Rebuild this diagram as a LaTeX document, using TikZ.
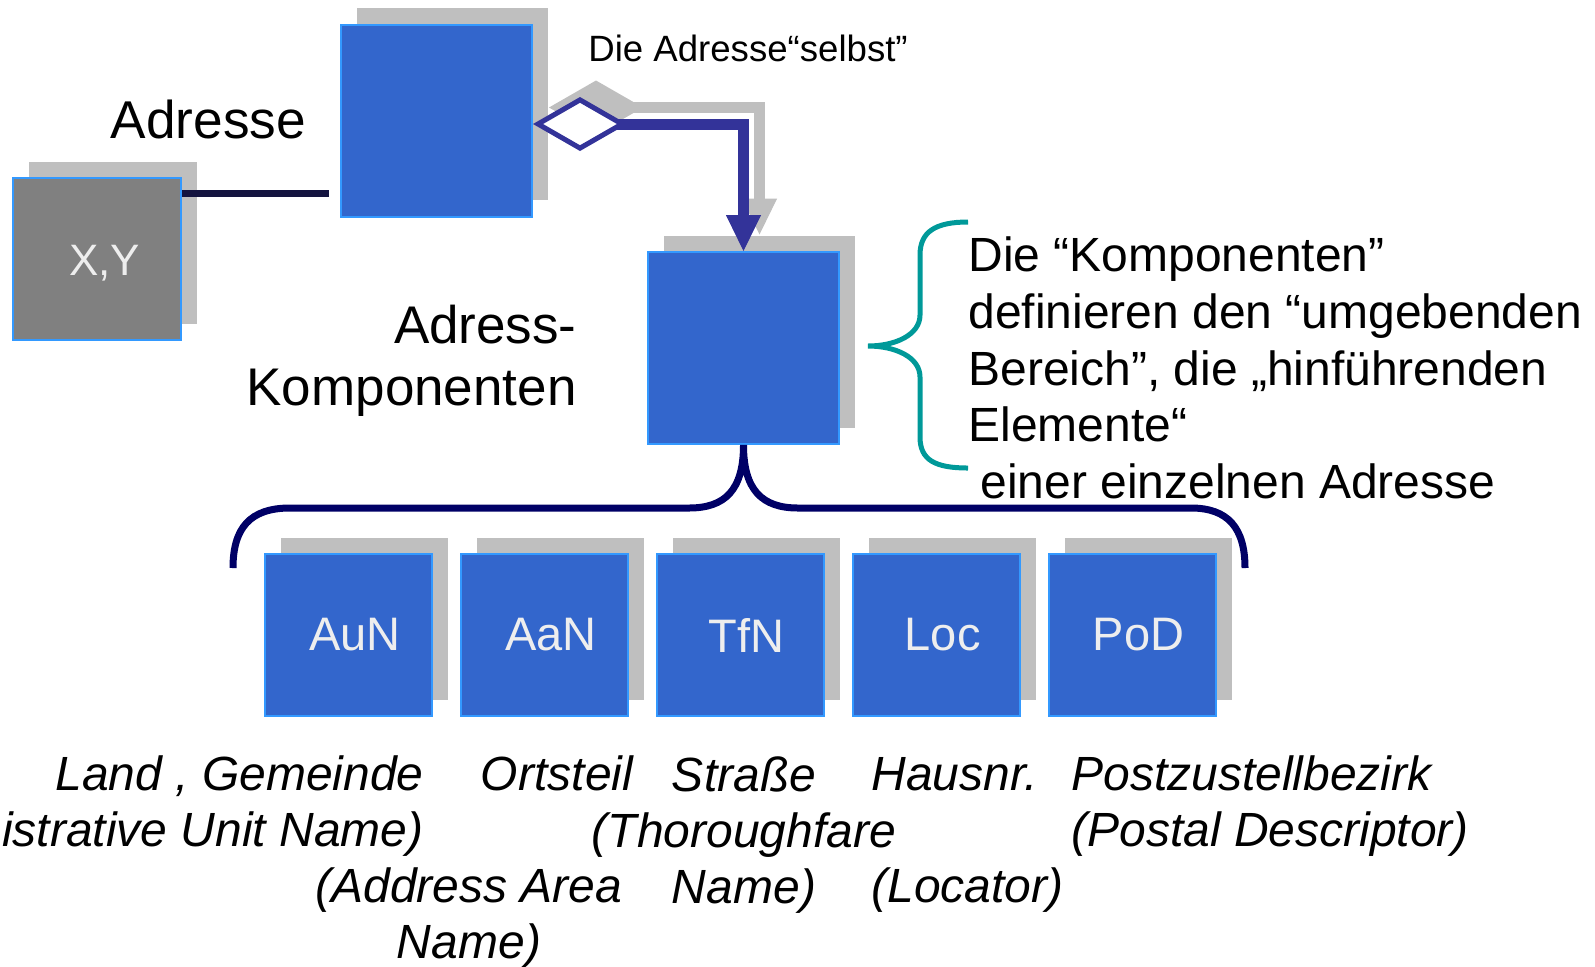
\documentclass[tikz,border=0pt]{standalone}
\usepackage{fontspec}
\setmainfont{Liberation Sans}
\usetikzlibrary{arrows.meta,shadows}
\definecolor{boxblue}{HTML}{3366CC}
\definecolor{boxline}{HTML}{3399FF}
\definecolor{shade}{HTML}{BFBFBF}
\definecolor{xygray}{HTML}{808080}
\definecolor{aggblue}{HTML}{333399}
\definecolor{bracenavy}{HTML}{000066}
\definecolor{braceteal}{HTML}{009999}
\definecolor{linknavy}{HTML}{141440}
\definecolor{boxtext}{HTML}{EEEEEE}
\tikzset{
  compbox/.style={draw=boxline,fill=boxblue,line width=1pt,inner sep=0pt,
    general shadow={fill=shade,shadow xshift=8pt,shadow yshift=8.25pt}},
  bigbox/.style={compbox,minimum width=95.5pt,minimum height=96pt},
  smallbox/.style={compbox,minimum width=83.5pt,minimum height=81pt,
    text=boxtext,font=\fontsize{23.5}{27}\selectfont},
  txt/.style={inner sep=0pt},
  lbl/.style={inner sep=0pt,font=\itshape\fontsize{24}{28.2}\selectfont},
  agg/.style={draw=aggblue,line width=5.5pt,
    {Diamond[length=47pt,width=27pt,line width=2.5pt,fill=white]}-{Triangle[length=18pt,width=17.5pt,line width=0.5pt]}},
  aggshadow/.style={draw=shade,line width=5.5pt,transform canvas={shift={(8pt,8.25pt)}},
    {Diamond[length=47pt,width=27pt,line width=2.5pt,fill=shade]}-{Triangle[length=18pt,width=17.5pt,line width=0.5pt]}}
}
\begin{document}
\begin{tikzpicture}[x=0.5pt,y=-0.5pt]
\useasboundingbox (0,0) rectangle (1595,966);
\node[bigbox] (adr) at (436.5,120.5) {};
\node[bigbox] (kom) at (743.5,348) {};
\node[compbox,fill=xygray,minimum width=84pt,minimum height=81pt,text=boxtext,text depth=0pt,font=\fontsize{22}{26}\selectfont] (xy) at (97,259) {\hspace*{7.5pt}\raisebox{-1.5pt}{X,Y}};
\foreach \name [count=\i from 0] in {AuN,AaN,TfN,Loc,PoD}
  \node[smallbox] (\name) at (348.5+195.9*\i,635) {\hspace*{6.5pt}\raisebox{-1pt}{\name}};

\node[txt,font=\fontsize{26.6}{31}\selectfont] (adrlbl) at (208.5,119) {Adresse};
\node[txt,anchor=west,font=\fontsize{18.3}{22}\selectfont] (selbst) at (588,48) {Die Adresse“selbst”};
\node[txt,anchor=east,align=right,font=\fontsize{26.5}{31}\selectfont] (komlbl) at (577,361) {Adress-\\Komponenten};
\node[txt,anchor=west,align=left,font=\fontsize{24}{28.4}\selectfont] (note) at (968,368) {Die “Komponenten”\\definieren den “umgebenden\\Bereich”, die „hinführenden\\Elemente“\\\hspace*{0.25em}einer einzelnen Adresse};

\node[lbl,anchor=east,align=right] (lauN) at (424,806) {Land , Gemeinde\\(Administrative Unit Name)};
\node[lbl] (lort) at (557,773) {Ortsteil};
\node[lbl,align=center] (laaN) at (469,918) {(Address Area\\Name)};
\node[lbl,align=center] (ltfN) at (744,835) {Straße\\(Thoroughfare\\Name)};
\node[lbl,anchor=west,align=left] (lloc) at (871,835) {Hausnr.\\\mbox{}\\(Locator)};
\node[lbl,anchor=west,align=left] (lpod) at (1071,806) {Postzustellbezirk\\(Postal Descriptor)};

\coordinate (lk) at (329,193);
\draw[linknavy,line width=3.5pt] (xy.east |- lk) -- (lk);

\draw[aggshadow] (adr.east |- 0,124) -- (kom.north |- 0,124) -- (kom.north);
\draw[agg] (adr.east |- 0,124) -- (kom.north |- 0,124) -- (kom.north);

\coordinate (tt) at (968,222);
\coordinate (tm) at (868,346);
\coordinate (tb) at (968,468);
\draw[braceteal,line width=2.5pt] (tt) .. controls (935,222) and (920,232) .. (920,255) -- (920,315)
  .. controls (920,335) and (895,346) .. (tm) .. controls (895,346) and (920,357) .. (920,377)
  -- (920,437) .. controls (920,460) and (935,468) .. (tb);

\coordinate (bl) at (233,568);
\coordinate (br) at (1245,568);
\draw[bracenavy,line width=3.5pt] (bl) .. controls (233,528) and (250,508) .. (290,508) -- (689,508)
  .. controls (725,508) and (kom.south |- 0,490) .. (kom.south)
  .. controls (kom.south |- 0,490) and (762,508) .. (798,508) -- (1191,508)
  .. controls (1228,508) and (1245,528) .. (br);
\end{tikzpicture}
\end{document}
